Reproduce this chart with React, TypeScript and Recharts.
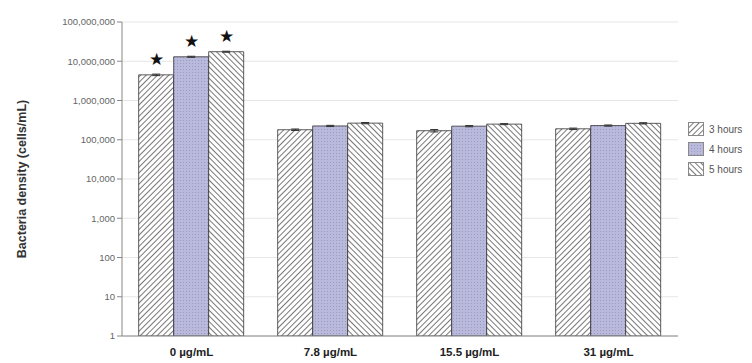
import React from 'react';
import {
  BarChart, Bar, XAxis, YAxis, CartesianGrid, ErrorBar, LabelList,
} from 'recharts';

const categories = ['0 µg/mL', '7.8 µg/mL', '15.5 µg/mL', '31 µg/mL'];
const hours3 = [4500000, 180000, 170000, 190000];
const hours4 = [13000000, 225000, 222000, 230000];
const hours5 = [17500000, 265000, 250000, 262000];
const err3 = [200000, 8000, 12000, 8000];
const err4 = [400000, 8000, 8000, 8000];
const err5 = [500000, 10000, 8000, 10000];
const significant = ['★', '', '', ''];
const yTicks = [1, 10, 100, 1000, 10000, 100000, 1000000, 10000000, 100000000];

const seriesInfo = [
  { key: 'h3', name: '3 hours', fill: 'url(#hatchA)' },
  { key: 'h4', name: '4 hours', fill: 'url(#dotsB)' },
  { key: 'h5', name: '5 hours', fill: 'url(#hatchC)' },
];

const data = categories.map((name, i) => ({
  name,
  h3: hours3[i], h4: hours4[i], h5: hours5[i],
  e3: err3[i], e4: err4[i], e5: err5[i],
  sig: significant[i],
}));

const font = 'Arial, "Liberation Sans", sans-serif';

const Patterns = () => (
  <svg width={0} height={0} style={{ position: 'absolute' }}>
    <defs>
      <pattern id="hatchA" patternUnits="userSpaceOnUse" width={4} height={4} patternTransform="rotate(45)">
        <rect width={4} height={4} fill="#ffffff" />
        <line x1={0} y1={0} x2={0} y2={4} stroke="#555" strokeWidth={1.6} />
      </pattern>
      <pattern id="hatchC" patternUnits="userSpaceOnUse" width={4} height={4} patternTransform="rotate(-45)">
        <rect width={4} height={4} fill="#ffffff" />
        <line x1={0} y1={0} x2={0} y2={4} stroke="#555" strokeWidth={1.6} />
      </pattern>
      <pattern id="dotsB" patternUnits="userSpaceOnUse" width={3} height={3}>
        <rect width={3} height={3} fill="#b9b9dc" />
        <rect x={0} y={0} width={1} height={1} fill="#9a9ac4" />
      </pattern>
    </defs>
  </svg>
);

const LegendBox = () => (
  <div style={{ position: 'absolute', left: 688, top: 119, fontFamily: font, fontSize: 10, color: '#555' }}>
    {seriesInfo.map((s) => (
      <div key={s.key} style={{ display: 'flex', alignItems: 'center', height: 20 }}>
        <svg width={16} height={14} style={{ marginRight: 5 }}>
          <rect x={0.5} y={0.5} width={15} height={13} fill={s.fill} stroke="#888" />
        </svg>
        <span>{s.name}</span>
      </div>
    ))}
  </div>
);

const Star = (props: any) => {
  const { x, y, width, value } = props;
  if (!value) return null;
  return (
    <text x={x + width / 2} y={y - 10} textAnchor="middle" fontSize={17} fill="#111" fontFamily={font}>
      {value}
    </text>
  );
};

export default function App() {
  return (
    <div style={{ position: 'absolute', left: 0, top: 0, width: 752, height: 363, background: '#fff' }}>
      <Patterns />
      <BarChart
        width={752}
        height={363}
        data={data}
        margin={{ top: 22, right: 74, bottom: 0, left: 42 }}
        barCategoryGap="12%"
        barGap={0}
      >
        <CartesianGrid vertical={false} stroke="#e6e6e6" />
        <XAxis
          dataKey="name"
          height={27}
          tickLine={false}
          axisLine={{ stroke: '#888' }}
          tick={{ fontSize: 11.5, fontWeight: 'bold', fill: '#222', fontFamily: font }}
          tickMargin={6}
        />
        <YAxis
          scale="log"
          domain={[1, 100000000]}
          ticks={yTicks}
          allowDataOverflow
          width={80}
          axisLine={{ stroke: '#888' }}
          tickLine={{ stroke: '#888' }}
          tickSize={5}
          tick={{ fontSize: 9.5, fill: '#666', fontFamily: font }}
          tickFormatter={(v: number) => v.toLocaleString('en-US')}
          label={{
            value: 'Bacteria density (cells/mL)',
            angle: -90,
            position: 'insideLeft',
            offset: -20,
            style: { textAnchor: 'middle', fontSize: 12.5, fontWeight: 'bold', fill: '#333', fontFamily: font },
          }}
        />
        <Bar dataKey="h3" name="3 hours" fill="url(#hatchA)" stroke="#333" strokeWidth={0.8} isAnimationActive={false}>
          <ErrorBar dataKey="e3" width={4} stroke="#333" strokeWidth={1} />
          <LabelList dataKey="sig" content={Star} />
        </Bar>
        <Bar dataKey="h4" name="4 hours" fill="url(#dotsB)" stroke="#333" strokeWidth={0.8} isAnimationActive={false}>
          <ErrorBar dataKey="e4" width={4} stroke="#333" strokeWidth={1} />
          <LabelList dataKey="sig" content={Star} />
        </Bar>
        <Bar dataKey="h5" name="5 hours" fill="url(#hatchC)" stroke="#333" strokeWidth={0.8} isAnimationActive={false}>
          <ErrorBar dataKey="e5" width={4} stroke="#333" strokeWidth={1} />
          <LabelList dataKey="sig" content={Star} />
        </Bar>
      </BarChart>
      <LegendBox />
    </div>
  );
}
